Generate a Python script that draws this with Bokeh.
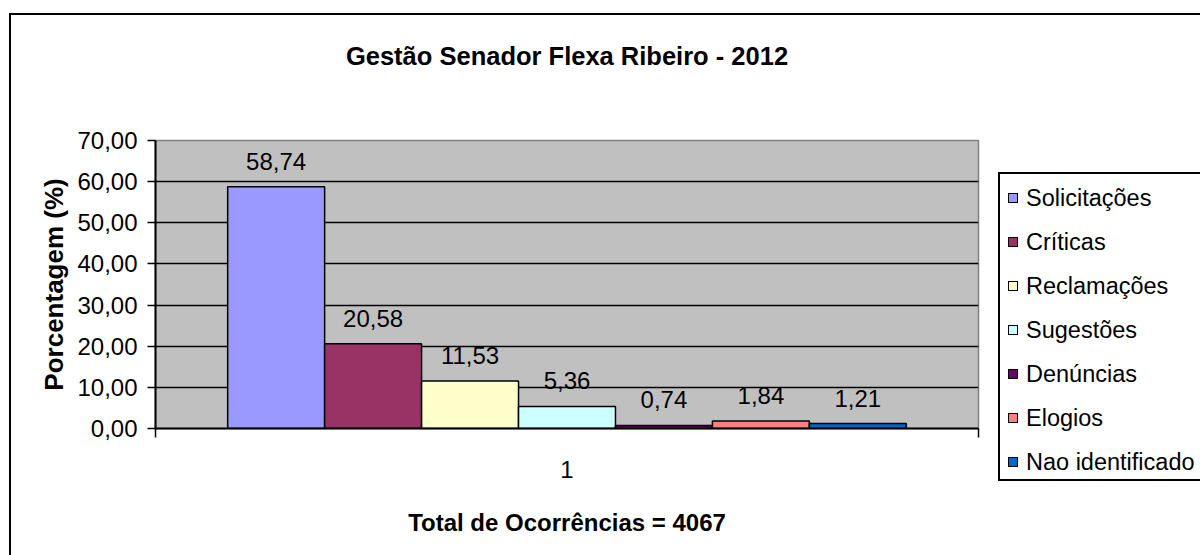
from bokeh.plotting import figure
from bokeh.layouts import row
from bokeh.models import (Range1d, FixedTicker, LinearAxis, Div,
                          ColumnDataSource, InlineStyleSheet)
from bokeh.core.properties import value
from bokeh.embed import file_html
from bokeh.resources import INLINE

# ---- data ----
chart_title = "Gestão Senador Flexa Ribeiro - 2012"
categories = ["Solicitações", "Críticas", "Reclamações", "Sugestões",
              "Denúncias", "Elogios", "Nao identificado"]
values = [58.74, 20.58, 11.53, 5.36, 0.74, 1.84, 1.21]
colors = ["#9999FF", "#993366", "#FFFFCC", "#CCFFFF", "#660066", "#FF8080", "#0066CC"]
y_ticks = [0, 10, 20, 30, 40, 50, 60, 70]
x_category = "1"
y_label = "Porcentagem (%)"
x_label = "Total de Ocorrências = 4067"

FONT = "Liberation Sans"

# ---- layout constants ----
bar_w = 0.1178
n = len(values)
xs = [0.5 + (i - (n - 1) / 2) * bar_w for i in range(n)]
labels = [f"{v:.2f}".replace(".", ",") for v in values]

src = ColumnDataSource(dict(x=xs, top=values, color=colors, cat=categories, label=labels))

p = figure(width=990, height=555, output_backend="svg", toolbar_location=None,
           title=None, x_range=Range1d(0, 1), y_range=Range1d(0, 70),
           min_border_left=155, min_border_right=12, min_border_top=140,
           min_border_bottom=127)

p.background_fill_color = "#C0C0C0"
p.border_fill_color = "white"
p.outline_line_color = "#808080"
p.outline_line_width = 1.5

# chart title, centred over the plot area (drawn as the label of a bare top axis)
title_axis = LinearAxis(axis_label=chart_title, ticker=FixedTicker(ticks=[]),
                        axis_line_color=None, major_tick_line_color=None,
                        minor_tick_line_color=None)
title_axis.axis_label_text_font = FONT
title_axis.axis_label_text_font_size = "25.5px"
title_axis.axis_label_text_font_style = "bold"
title_axis.axis_label_text_color = "black"
title_axis.axis_label_standoff = 71
p.add_layout(title_axis, "above")

# grids
p.xgrid.visible = False
p.ygrid.ticker = FixedTicker(ticks=y_ticks)
p.ygrid.grid_line_color = "black"
p.ygrid.grid_line_width = 1.5

# y axis
p.yaxis.ticker = FixedTicker(ticks=y_ticks)
p.yaxis.major_label_overrides = {t: f"{t:.2f}".replace(".", ",") for t in y_ticks}
p.yaxis.major_label_text_font = FONT
p.yaxis.major_label_text_font_size = "24px"
p.yaxis.major_label_text_color = "black"
p.yaxis.major_tick_out = 8
p.yaxis.major_tick_in = 0
p.yaxis.minor_tick_line_color = None
p.yaxis.major_tick_line_color = "black"
p.yaxis.major_tick_line_width = 1.5
p.yaxis.axis_line_color = "black"
p.yaxis.axis_line_width = 2
p.yaxis.major_label_standoff = 10
p.yaxis.axis_label = y_label
p.yaxis.axis_label_text_font = FONT
p.yaxis.axis_label_text_font_size = "26px"
p.yaxis.axis_label_text_font_style = "bold"
p.yaxis.axis_label_text_color = "black"
p.yaxis.axis_label_standoff = 5

# x axis
xa = p.below[0]
xa.ticker = FixedTicker(ticks=[0.5], minor_ticks=[0, 1])
xa.major_label_overrides = {0.5: x_category}
xa.major_tick_line_color = None
xa.major_tick_out = 0
xa.major_tick_in = 0
xa.minor_tick_line_color = "black"
xa.minor_tick_line_width = 1.5
xa.minor_tick_out = 9
xa.minor_tick_in = 0
xa.axis_line_color = "black"
xa.axis_line_width = 2
xa.major_label_text_font = FONT
xa.major_label_text_font_size = "24px"
xa.major_label_text_color = "black"
xa.major_label_standoff = 23
xa.axis_label = x_label
xa.axis_label_text_font = FONT
xa.axis_label_text_font_size = "24px"
xa.axis_label_text_font_style = "bold"
xa.axis_label_text_color = "black"
xa.axis_label_standoff = 28

# bars
p.vbar(x="x", top="top", bottom=0, width=bar_w, source=src,
       fill_color="color", line_color="black", line_width=1.5)

# value labels
p.text(x="x", y="top", text="label", source=src, text_align="center",
       text_baseline="bottom", y_offset=-17, text_font=value(FONT),
       text_font_size="24px", text_color="black")

# outer chart border (left and top edges visible, the rest runs off the page)
p.stylesheets = [InlineStyleSheet(css="""
:host { position: relative; }
:host::after {
  content: "";
  position: absolute;
  left: 9px; top: 13px; right: 0; bottom: 0;
  border-left: 2.5px solid black;
  border-top: 2.5px solid black;
  pointer-events: none;
  z-index: 10;
}
""")]

# ---- legend (HTML, to the right of the plot area) ----
ROW_PITCH = 44
rows_html = ""
for i, (c, col) in enumerate(zip(categories, colors)):
    rows_html += (
        f'<div style="position:absolute; left:8px; top:{10 + ROW_PITCH * i}px; '
        f'height:28px; line-height:28px; white-space:nowrap;">'
        f'<span style="display:inline-block; width:10px; height:10px; '
        f'border:1.5px solid black; background:{col}; vertical-align:middle; '
        f'margin-right:8px; position:relative; top:-2px;"></span>{c}</div>'
    )

legend_html = f"""
<div style="position:relative; width:210px; height:555px; overflow:hidden;
            font-family:'{FONT}'; font-size:23.5px; color:black;">
  <div style="position:absolute; left:0; right:0; top:13px;
              border-top:2.5px solid black;"></div>
  <div style="position:absolute; left:8px; top:172px; width:202px; height:309px;
              box-sizing:border-box; border:2px solid black; border-right:none;
              background:white;">
    {rows_html}
  </div>
</div>
"""
legend_div = Div(text=legend_html, width=210, height=555,
                 styles={"margin": "0", "padding": "0"})

layout = row(p, legend_div, spacing=0)
open("out.html", "w").write(file_html(layout, INLINE))
